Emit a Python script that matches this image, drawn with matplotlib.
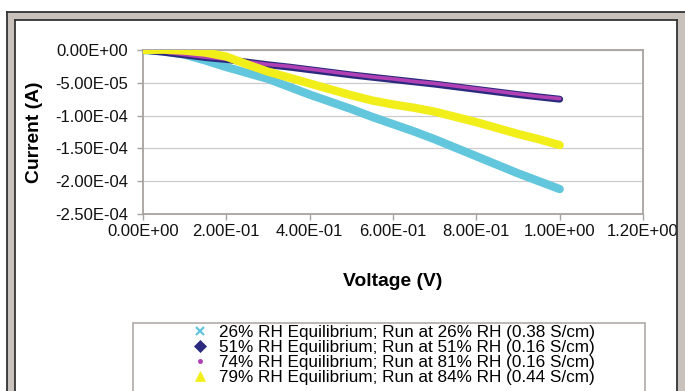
import matplotlib
matplotlib.use("Agg")
import matplotlib.pyplot as plt
from matplotlib.patches import Rectangle
from matplotlib.lines import Line2D
from matplotlib.ticker import FuncFormatter

plt.rcParams['font.family'] = ['Liberation Sans', 'DejaVu Sans']

# ---- data ----
voltage = [0.00, 0.05, 0.10, 0.15, 0.20, 0.25, 0.30, 0.35, 0.40, 0.45, 0.50,
           0.55, 0.60, 0.65, 0.70, 0.75, 0.80, 0.85, 0.90, 0.95, 1.00]
current_26 = [0.0, -2e-6, -7e-6, -1.6e-5, -2.6e-5, -3.5e-5, -4.4e-5, -5.6e-5, -6.8e-5, -7.9e-5, -9.0e-5,
              -1.02e-4, -1.13e-4, -1.24e-4, -1.36e-4, -1.49e-4, -1.62e-4, -1.75e-4, -1.88e-4, -2.00e-4, -2.12e-4]
current_51 = [0.0, -3.5e-6, -7.5e-6, -1.15e-5, -1.45e-5, -1.85e-5, -2.25e-5, -2.6e-5, -3.0e-5, -3.4e-5, -3.8e-5,
              -4.15e-5, -4.5e-5, -4.85e-5, -5.2e-5, -5.6e-5, -6.0e-5, -6.4e-5, -6.8e-5, -7.15e-5, -7.5e-5]
current_74 = [0.0, -3e-6, -7e-6, -1.1e-5, -1.4e-5, -1.8e-5, -2.2e-5, -2.5e-5, -2.9e-5, -3.3e-5, -3.7e-5,
              -4.1e-5, -4.4e-5, -4.8e-5, -5.1e-5, -5.5e-5, -5.9e-5, -6.3e-5, -6.7e-5, -7.1e-5, -7.4e-5]
current_79 = [0.0, 0.5e-6, -1e-6, -4e-6, -1.0e-5, -2.2e-5, -3.3e-5, -4.2e-5, -5.1e-5, -6.0e-5, -6.9e-5,
              -7.7e-5, -8.3e-5, -8.8e-5, -9.4e-5, -1.02e-4, -1.10e-4, -1.19e-4, -1.28e-4, -1.36e-4, -1.45e-4]

labels = ["26% RH Equilibrium; Run at 26% RH (0.38 S/cm)",
          "51% RH Equilibrium; Run at 51% RH (0.16 S/cm)",
          "74% RH Equilibrium; Run at 81% RH (0.16 S/cm)",
          "79% RH Equilibrium; Run at 84% RH (0.44 S/cm)"]
x_ticks = [0.0, 0.2, 0.4, 0.6, 0.8, 1.0, 1.2]
y_ticks = [0.0, -5e-5, -1e-4, -1.5e-4, -2e-4, -2.5e-4]

colors = ['#62c6dc', '#2b2a7e', '#b040b4', '#f2ee1a']
markers = ['x', 'D', 'o', '^']
msizes = [6, 6, 3, 7]
widths = [6.0, 5.0, 2.6, 6.0]

W, H = 685, 391
fig = plt.figure(figsize=(W / 100, H / 100), dpi=100)
fig.patch.set_facecolor('white')

ax = fig.add_axes([143 / W, 1 - 214 / H, (643 - 143) / W, (214 - 50) / H])
series = [current_26, current_51, current_74, current_79]
for i, cur in enumerate(series):
    ax.plot(voltage, cur, color=colors[i], lw=widths[i], solid_capstyle='round',
            solid_joinstyle='round', zorder=3 + i)

ax.set_xlim(0, 1.2)
ax.set_ylim(-2.5e-4, 0)
ax.set_xticks(x_ticks)
ax.set_yticks(y_ticks)
fmt = FuncFormatter(lambda v, p: f"{(0.0 if abs(v) < 1e-12 else v):.2E}")
ax.xaxis.set_major_formatter(fmt)
ax.yaxis.set_major_formatter(fmt)
ax.grid(axis='y', color='#cccccc', lw=0.9)
ax.set_axisbelow(True)
for s in ax.spines.values():
    s.set_color('#a8a2a0')
    s.set_linewidth(1.3)
ax.tick_params(axis='both', direction='out', length=4.5, width=1.0, color='#a8a2a0',
               labelsize=12, labelcolor='#111111')
ax.tick_params(axis='y', pad=6.0)
ax.tick_params(axis='x', pad=3)
ax.set_xlabel('Voltage (V)', fontsize=13.9, fontweight='bold', labelpad=24)
ax.set_ylabel('Current (A)', fontsize=13.9, fontweight='bold', labelpad=9)

def frect(x0, y0, x1, y1, **kw):
    return Rectangle((x0 / W, 1 - y1 / H), (x1 - x0) / W, (y1 - y0) / H,
                     transform=fig.transFigure, **kw)

# legend box
fig.patches.append(frect(133, 323, 645, 420, facecolor='white', edgecolor='#b0aaa8', lw=1.2, zorder=2))
handles = [Line2D([], [], ls='none', marker=markers[i], color=colors[i], markersize=msizes[i],
                  markeredgewidth=1.6 if markers[i] == 'x' else 0.5) for i in range(4)]
leg = fig.legend(handles, labels, loc='upper left', bbox_to_anchor=(191 / W, 1 - 325 / H),
                 frameon=False, fontsize=12.3, handlelength=1.0, handletextpad=0.65,
                 labelspacing=0.0, borderpad=0, borderaxespad=0)
leg.set_zorder(3)

# outer frame
grey = '#c9c1bc'
dark = '#333333'
for (x0, y0, x1, y1) in [(7, 12, 15, 420), (7, 12, 700, 20), (677, 12, 700, 420)]:
    fig.patches.append(frect(x0, y0, x1, y1, facecolor=grey, edgecolor='none', zorder=20))
for (xa, ya, xb, yb) in [(7, 12, 7, 420), (7, 12, 700, 12), (15, 20, 15, 420), (15, 20, 677, 20), (677, 20, 677, 420)]:
    fig.add_artist(Line2D([xa / W, xb / W], [1 - ya / H, 1 - yb / H], transform=fig.transFigure,
                          color=dark, lw=1.3, zorder=21))

fig.savefig('out.png', dpi=100)
